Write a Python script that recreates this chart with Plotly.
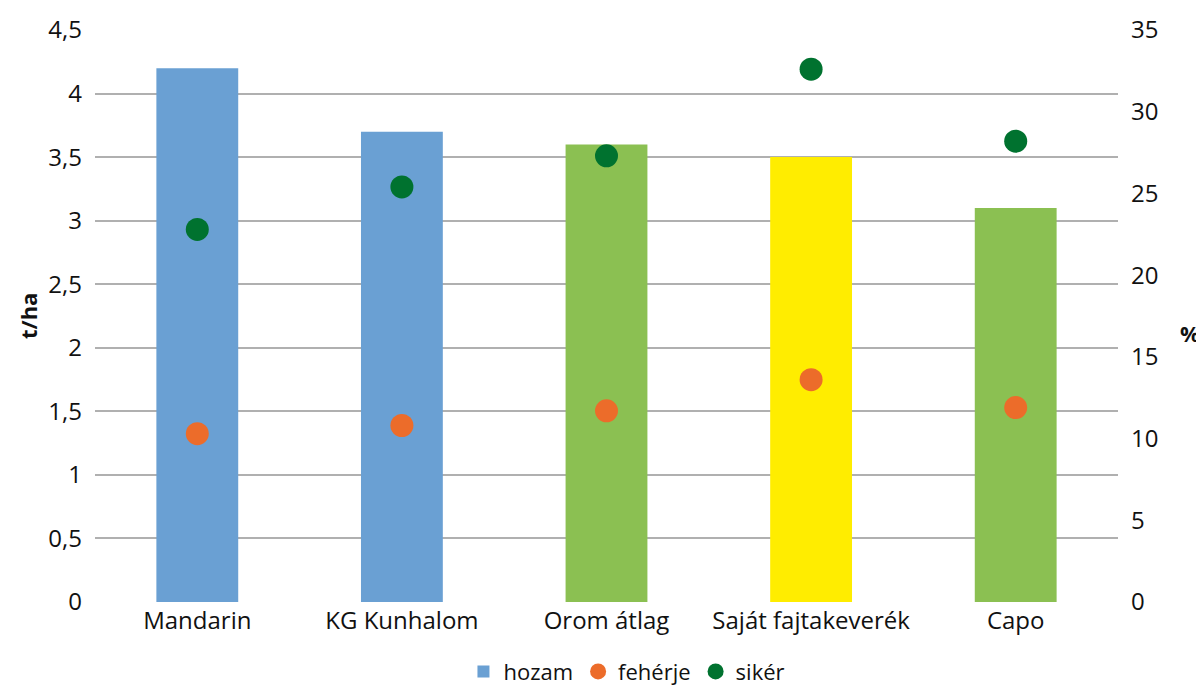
import plotly.graph_objects as go

# data
fajtak = ["Mandarin", "KG Kunhalom", "Orom átlag", "Saját fajtakeverék", "Capo"]
hozam = [4.2, 3.7, 3.6, 3.5, 3.1]
feherje = [10.3, 10.8, 11.7, 13.6, 11.9]
siker = [22.8, 25.4, 27.3, 32.6, 28.2]
bar_colors = ["#6aa0d3", "#6aa0d3", "#8bc052", "#ffed00", "#8bc052"]

fnt = "'Open Sans', sans-serif"

fig = go.Figure()
fig.add_trace(go.Bar(x=fajtak, y=hozam, name="hozam",
                     marker=dict(color=bar_colors, line_width=0), width=0.4))
fig.add_trace(go.Scatter(x=fajtak, y=feherje, name="fehérje", mode="markers",
                         yaxis="y2", marker=dict(color="#ec6c2a", size=23)))
fig.add_trace(go.Scatter(x=fajtak, y=siker, name="sikér", mode="markers",
                         yaxis="y2", marker=dict(color="#00722f", size=23)))

# page has an 8px body margin, so the figure is drawn slightly smaller
fig.update_layout(
    width=1196, height=677,
    margin=dict(l=87, r=86, t=22, b=83, autoexpand=False),
    plot_bgcolor="white", paper_bgcolor="white",
    font=dict(family=fnt, size=24, color="#111111"),
    showlegend=True,
    legend=dict(orientation="h", x=0.52, xanchor="center", y=-0.085, yanchor="top",
                font=dict(size=22), traceorder="normal"),
    xaxis=dict(showgrid=False, showline=False, ticks="", tickfont=dict(size=24),
               ticklabelstandoff=2),
    yaxis=dict(range=[0, 4.5], dtick=0.5, showgrid=True, gridcolor="#b0b0b0",
               gridwidth=1.5, zeroline=False, showline=False,
               tickformat=",.1~f", ticklabelstandoff=12),
    yaxis2=dict(range=[0, 35], dtick=5, overlaying="y", side="right",
                showgrid=False, zeroline=False, showline=False, ticklabelstandoff=12),
    separators=", ",
)

fig.add_annotation(text="<b>t/ha</b>", xref="paper", yref="paper", x=-0.0655, y=0.5,
                   xanchor="center", yanchor="middle", textangle=-90, showarrow=False,
                   font=dict(size=22))
fig.add_annotation(text="<b>%</b>", xref="paper", yref="paper", x=1.07, y=0.47,
                   xanchor="center", yanchor="middle", showarrow=False, font=dict(size=22))

fig.write_html("out.html")
